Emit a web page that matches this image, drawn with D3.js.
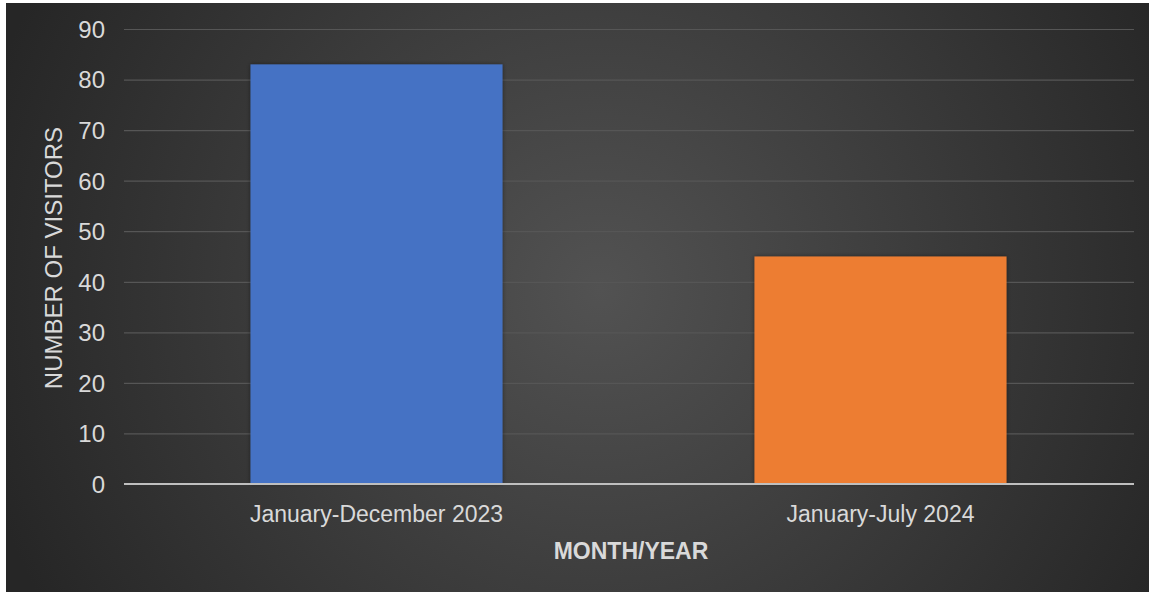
<!DOCTYPE html>
<html>
<head>
<meta charset="utf-8">
<script src="https://cdn.jsdelivr.net/npm/d3@7"></script>
<style>
  html, body { margin: 0; padding: 0; background: #ffffff; }
  svg { display: block; }
  text { font-family: "Liberation Sans", Arial, sans-serif; }
</style>
</head>
<body>
<svg id="chart" width="1149" height="592"></svg>
<script>
const categories = ["January-December 2023", "January-July 2024"];
const values = [83, 45];
const barColors = ["#4472c4", "#ed7d31"];
const yTicks = [0, 10, 20, 30, 40, 50, 60, 70, 80, 90];
const xTitle = "MONTH/YEAR";
const yTitle = "NUMBER OF VISITORS";

const svg = d3.select("#chart");
const W = 1149, H = 592;

const defs = svg.append("defs");
const grad = defs.append("radialGradient")
  .attr("id", "bg").attr("gradientUnits", "userSpaceOnUse")
  .attr("cx", 600).attr("cy", 290).attr("r", 640);
grad.append("stop").attr("offset", "0%").attr("stop-color", "#525252");
grad.append("stop").attr("offset", "100%").attr("stop-color", "#262626");

const shadow = defs.append("filter").attr("id", "shadow")
  .attr("x", "-5%").attr("y", "-5%").attr("width", "110%").attr("height", "110%");
shadow.append("feDropShadow").attr("dx", 0).attr("dy", 0).attr("stdDeviation", 2)
  .attr("flood-color", "#000").attr("flood-opacity", 0.45);

svg.append("rect").attr("x", 6).attr("y", 3).attr("width", W - 6).attr("height", H - 3)
  .attr("fill", "url(#bg)");

const x = d3.scaleBand().domain(categories).range([124.5, 1132.5])
  .paddingInner(0.5).paddingOuter(0.25);
const y = d3.scaleLinear().domain([0, 90]).range([484, 29]);

// gridlines
const grid = svg.append("g")
  .attr("transform", "translate(124,0)")
  .call(d3.axisLeft(y).tickValues(yTicks.filter(d => d > 0)).tickSize(-1010).tickFormat(""));
grid.select(".domain").remove();
grid.selectAll("line").attr("stroke", "#565656").attr("stroke-width", 1.2);

// y labels
const yAxis = svg.append("g")
  .attr("transform", "translate(124,0)")
  .call(d3.axisLeft(y).tickValues(yTicks).tickSize(0).tickPadding(19));
yAxis.select(".domain").remove();
yAxis.selectAll("text").attr("fill", "#d9d9d9").style("font-size", "24px")
  .attr("dy", "0.35em");

// bars
svg.append("g").selectAll("rect").data(categories).join("rect")
  .attr("x", d => x(d))
  .attr("y", (d, i) => y(values[i]))
  .attr("width", x.bandwidth())
  .attr("height", (d, i) => y(0) - y(values[i]))
  .attr("fill", (d, i) => barColors[i])
  .attr("filter", "url(#shadow)");

// x axis
const xAxis = svg.append("g")
  .attr("transform", "translate(0,484)")
  .call(d3.axisBottom(x).tickSize(0).tickPadding(20));
xAxis.select(".domain").attr("stroke", "#bfbfbf").attr("stroke-width", 2)
  .attr("d", "M124,0H1134");
xAxis.selectAll("text").attr("fill", "#d9d9d9").style("font-size", "23px")
  .attr("dy", "0.71em").attr("y", 22);

// axis titles
svg.append("text").attr("x", 631).attr("y", 559).attr("text-anchor", "middle")
  .attr("fill", "#d9d9d9").style("font-size", "23px").style("font-weight", "bold")
  .text(xTitle);

svg.append("text")
  .attr("transform", "translate(62,258) rotate(-90)")
  .attr("text-anchor", "middle")
  .attr("fill", "#d9d9d9").style("font-size", "24px")
  .text(yTitle);
</script>
</body>
</html>
